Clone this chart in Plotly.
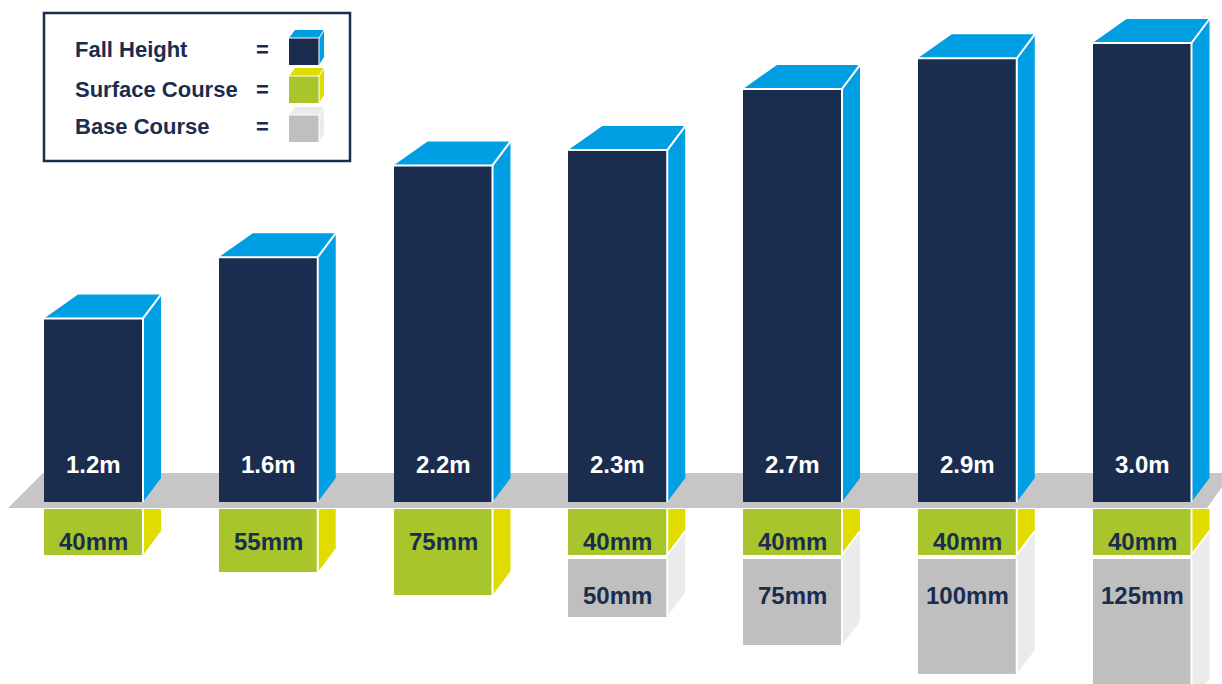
import plotly.graph_objects as go

# ---------------- data ----------------
fall_labels = ["1.2m", "1.6m", "2.2m", "2.3m", "2.7m", "2.9m", "3.0m"]
fall_height_m = [1.2, 1.6, 2.2, 2.3, 2.7, 2.9, 3.0]
surface_mm = [40, 55, 75, 40, 40, 40, 40]
base_mm = [None, None, None, 50, 75, 100, 125]
legend_labels = ["Fall Height", "Surface Course", "Base Course"]

# ---------------- style / geometry ----------------
NAVY = "#1b2d4e"
BLUE = "#009fe3"
GREEN = "#a8c62b"
YELLOW = "#e0dc00"
GREY = "#bfbfbf"
GREY_SIDE = "#ebebeb"
BAND = "#c6c6c6"
FONT = "Liberation Sans, Arial, sans-serif"

W, H = 1222, 684
PX_PER_CAT = 174.75
X0_PX = 93.5
PX_PER_M = 153.0
PX_PER_MM = 1.15
GROUND_PX = 502
SUB_TOP_PX = 509

BAR_W = 99 / PX_PER_CAT
DX = 18 / PX_PER_CAT
DXL = 34 / PX_PER_CAT
DEPTH_PX = 24
DY_M = DEPTH_PX / PX_PER_M
DY_MM = DEPTH_PX / PX_PER_MM
GAP_MM = 4 / PX_PER_MM

x = list(range(len(fall_height_m)))

fig = go.Figure()

# dark front faces
fig.add_trace(go.Bar(x=x, y=fall_height_m, base=0, width=BAR_W,
                     marker=dict(color=NAVY, line=dict(width=0)),
                     yaxis="y", hoverinfo="skip", showlegend=False))

# blue top + side faces
px_, py_ = [], []
for i, h in zip(x, fall_height_m):
    L, R = i - BAR_W / 2, i + BAR_W / 2
    pts = [(L, h), (L + DXL, h + DY_M), (R + DX, h + DY_M), (R + DX, DY_M), (R, 0), (R, h), (L, h)]
    for a, b in pts:
        px_.append(a); py_.append(b)
    px_.append(None); py_.append(None)
fig.add_trace(go.Scatter(x=px_, y=py_, mode="lines", fill="toself", fillcolor=BLUE,
                         line=dict(width=0, color=BLUE), yaxis="y",
                         hoverinfo="skip", showlegend=False))

# white edges (upper)
ex, ey = [], []
for i, h in zip(x, fall_height_m):
    L, R = i - BAR_W / 2, i + BAR_W / 2
    ex += [L, R, R, None, R, R + DX, None]
    ey += [h, h, 0, None, h, h + DY_M, None]
fig.add_trace(go.Scatter(x=ex, y=ey, mode="lines", line=dict(color="white", width=2),
                         yaxis="y", hoverinfo="skip", showlegend=False))

# surface course front faces
fig.add_trace(go.Bar(x=x, y=surface_mm, base=0, width=BAR_W,
                     marker=dict(color=GREEN, line=dict(width=0)),
                     yaxis="y2", hoverinfo="skip", showlegend=False))
# base course front faces
fig.add_trace(go.Bar(x=x, y=base_mm, base=[s + GAP_MM for s in surface_mm], width=BAR_W,
                     marker=dict(color=GREY, line=dict(width=0)),
                     yaxis="y2", hoverinfo="skip", showlegend=False))

# side faces below ground
yx, yy = [], []
gx, gy = [], []
lx, ly = [], []
for i, s, b in zip(x, surface_mm, base_mm):
    R = i + BAR_W / 2
    for a, c in [(R, 0), (R + DX, 0), (R + DX, s - DY_MM), (R, s), (R, 0)]:
        yx.append(a); yy.append(c)
    yx.append(None); yy.append(None)
    lx += [R, R, None]
    ly += [0, s, None]
    if b is not None:
        bot = s + GAP_MM + b
        for a, c in [(R, s), (R + DX, s - DY_MM), (R + DX, bot - DY_MM), (R, bot), (R, s)]:
            gx.append(a); gy.append(c)
        gx.append(None); gy.append(None)
        lx += [R, R + DX, None, R, R, None]
        ly += [s, s - DY_MM, None, s + GAP_MM, bot, None]

fig.add_trace(go.Scatter(x=gx, y=gy, mode="lines", fill="toself", fillcolor=GREY_SIDE,
                         line=dict(width=0, color=GREY_SIDE), yaxis="y2",
                         hoverinfo="skip", showlegend=False))
fig.add_trace(go.Scatter(x=yx, y=yy, mode="lines", fill="toself", fillcolor=YELLOW,
                         line=dict(width=0, color=YELLOW), yaxis="y2",
                         hoverinfo="skip", showlegend=False))
fig.add_trace(go.Scatter(x=lx, y=ly, mode="lines", line=dict(color="white", width=2),
                         yaxis="y2", hoverinfo="skip", showlegend=False))

# ---------------- labels ----------------
ann = []
for i, lab in zip(x, fall_labels):
    ann.append(dict(x=i, y=0, xref="x", yref="y", yshift=38, text=f"<b>{lab}</b>",
                    showarrow=False, xanchor="center", yanchor="middle",
                    font=dict(family=FONT, size=24, color="white")))
for i, s, b in zip(x, surface_mm, base_mm):
    ann.append(dict(x=i, y=0, xref="x", yref="y2", yshift=-32, text=f"<b>{s}mm</b>",
                    showarrow=False, xanchor="center", yanchor="middle",
                    font=dict(family=FONT, size=24, color=NAVY)))
    if b is not None:
        ann.append(dict(x=i, y=s + GAP_MM, xref="x", yref="y2", yshift=-36,
                        text=f"<b>{b}mm</b>", showarrow=False, xanchor="center",
                        yanchor="middle", font=dict(family=FONT, size=24, color=NAVY)))


def pxx(v):
    return v / W


def pyy(v):
    return 1 - v / H


def path(pts):
    return "M " + " L ".join(f"{pxx(a)},{pyy(b)}" for a, b in pts) + " Z"


shapes = []
# ground band
shapes.append(dict(type="path", xref="paper", yref="paper", layer="below",
                   path=path([(8, 508), (1207, 508), (1232, 473), (43, 473)]),
                   fillcolor=BAND, line=dict(width=0)))
# legend box
shapes.append(dict(type="rect", xref="paper", yref="paper",
                   x0=pxx(44), x1=pxx(350), y0=pyy(161), y1=pyy(13),
                   line=dict(color=NAVY, width=2.5), fillcolor="white"))
legend_rows = [(50, 38, NAVY, BLUE, BLUE), (89, 76, GREEN, YELLOW, YELLOW),
               (127, 115, GREY, GREY_SIDE, GREY_SIDE)]
for lab, (cy, top, front, topc, side) in zip(legend_labels, legend_rows):
    ann.append(dict(x=pxx(73), y=pyy(cy), xref="paper", yref="paper", text=f"<b>{lab}</b>",
                    showarrow=False, xanchor="left", yanchor="middle",
                    font=dict(family=FONT, size=22, color=NAVY)))
    ann.append(dict(x=pxx(262), y=pyy(cy), xref="paper", yref="paper", text="<b>=</b>",
                    showarrow=False, xanchor="center", yanchor="middle",
                    font=dict(family=FONT, size=22, color=NAVY)))
    bot = top + 27
    shapes.append(dict(type="path", xref="paper", yref="paper",
                       path=path([(289, top), (295, top - 8), (324, top - 8), (324, bot - 8),
                                  (319, bot), (319, top)]),
                       fillcolor=topc, line=dict(width=0)))
    shapes.append(dict(type="path", xref="paper", yref="paper",
                       path=path([(289, top), (319, top), (319, bot), (289, bot)]),
                       fillcolor=front, line=dict(width=0)))
    shapes.append(dict(type="path", xref="paper", yref="paper",
                       path=f"M {pxx(289)},{pyy(top)} L {pxx(319)},{pyy(top)} L {pxx(319)},{pyy(bot)} "
                            f"M {pxx(319)},{pyy(top)} L {pxx(324)},{pyy(top - 8)}",
                       line=dict(color="white", width=1)))

fig.update_layout(
    width=W, height=H, margin=dict(l=0, r=0, t=0, b=0),
    paper_bgcolor="white", plot_bgcolor="rgba(0,0,0,0)",
    barmode="overlay", bargap=0, showlegend=False,
    xaxis=dict(range=[-X0_PX / PX_PER_CAT, (W - X0_PX) / PX_PER_CAT], visible=False,
               fixedrange=True),
    yaxis=dict(domain=[(H - GROUND_PX) / H, 1], range=[0, GROUND_PX / PX_PER_M],
               visible=False, fixedrange=True),
    yaxis2=dict(domain=[0, (H - SUB_TOP_PX) / H], range=[(H - SUB_TOP_PX) / PX_PER_MM, 0],
                visible=False, fixedrange=True, anchor="x"),
    shapes=shapes, annotations=ann,
)

fig.write_html("out.html", config={"displayModeBar": False},
               post_script="document.body.style.margin='0px';document.body.style.overflow='hidden';")
